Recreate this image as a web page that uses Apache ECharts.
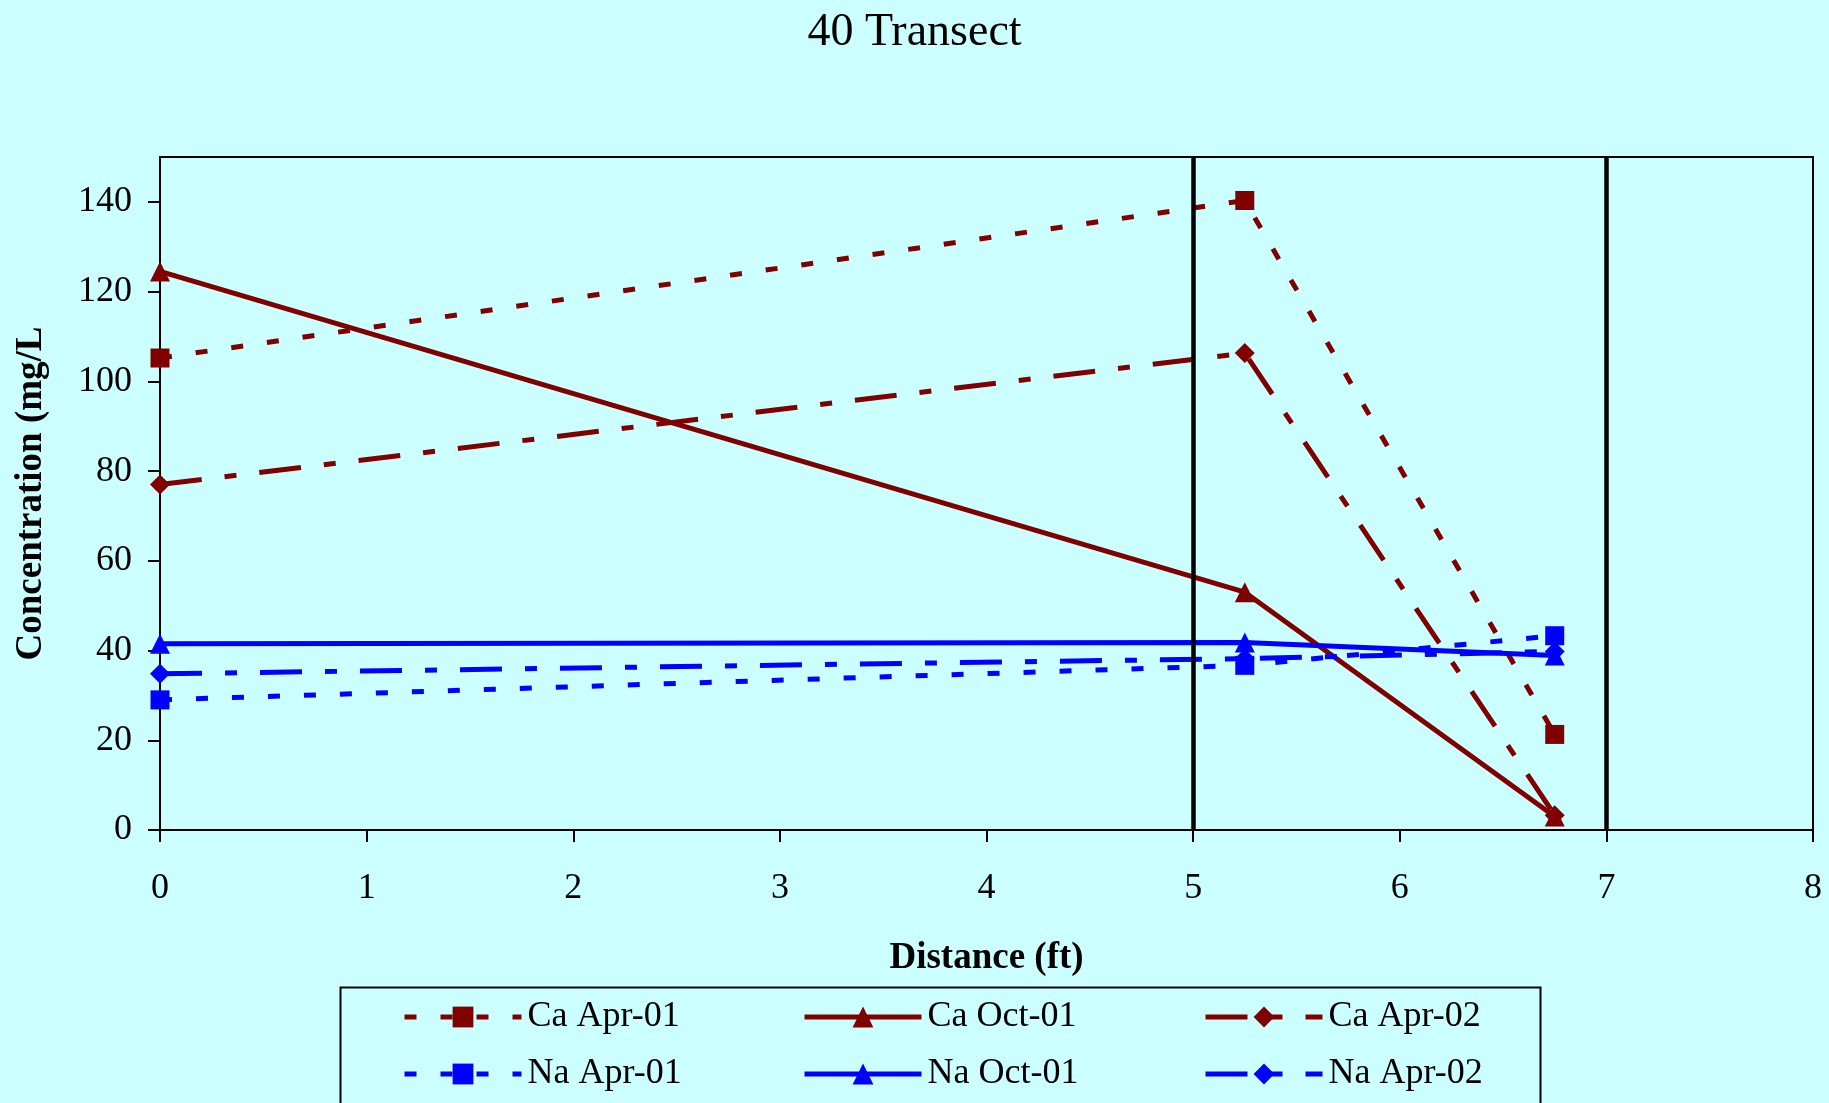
<!DOCTYPE html>
<html>
<head>
<meta charset="utf-8">
<script src="https://cdn.jsdelivr.net/npm/echarts@6/dist/echarts.min.js"></script>
<style>
html,body{margin:0;padding:0;background:#CCFFFF;}
#chart{width:1829px;height:1103px;}
</style>
</head>
<body>
<div id="chart"></div>
<script>
// ---- data ----
const xPositions = [0, 5.25, 6.75];
const seriesNames = ['Ca Apr-01', 'Ca Oct-01', 'Ca Apr-02', 'Na Apr-01', 'Na Oct-01', 'Na Apr-02'];
const caApr01 = [105.2, 140.3, 21.3];
const caOct01 = [124.5, 53.0, 3.0];
const caApr02 = [77.0, 106.3, 3.3];
const naApr01 = [29.0, 36.7, 43.3];
const naOct01 = [41.5, 41.8, 38.9];
const naApr02 = [34.8, 38.2, 39.8];
const yTicks = [0, 20, 40, 60, 80, 100, 120, 140];
const xTicks = [0, 1, 2, 3, 4, 5, 6, 7, 8];
const boundaryLines = [5, 7];

const FONT = "'Liberation Serif', 'Times New Roman', serif";
const RED = '#800000';
const BLUE = '#0000FF';
const DOT = [12, 24];
const DASHDOT = [42, 23, 12, 23];

function pts(vals) { return xPositions.map((x, i) => [x, vals[i]]); }

function mk(name, vals, color, type, symbol, size) {
  return {
    name: name,
    type: 'line',
    data: pts(vals),
    symbol: symbol,
    symbolSize: size,
    showSymbol: true,
    lineStyle: { color: color, width: 5, type: type, cap: 'butt' },
    itemStyle: { color: color },
    animation: false,
    z: 3
  };
}

const series = [
  mk(seriesNames[0], caApr01, RED, DOT, 'rect', 19),
  mk(seriesNames[1], caOct01, RED, 'solid', 'triangle', 20),
  mk(seriesNames[2], caApr02, RED, DASHDOT, 'diamond', 20),
  mk(seriesNames[3], naApr01, BLUE, DOT, 'rect', 19),
  mk(seriesNames[4], naOct01, BLUE, 'solid', 'triangle', 20),
  mk(seriesNames[5], naApr02, BLUE, DASHDOT, 'diamond', 20)
];
series.push({
  type: 'line',
  data: [],
  silent: true,
  animation: false,
  markLine: {
    silent: true,
    symbol: ['none', 'none'],
    label: { show: false },
    lineStyle: { color: '#000', width: 4.5, type: 'solid' },
    data: boundaryLines.map(v => ({ xAxis: v }))
  }
});

function legendCol(names, left) {
  return {
    data: names,
    orient: 'vertical',
    left: left,
    top: 994,
    itemWidth: 117,
    itemHeight: 26,
    itemGap: 21,
    lineStyle: { width: 5 },
    textStyle: { fontFamily: FONT, fontSize: 36, color: '#000', padding: [0, 0, 0, 1] }
  };
}

const option = {
  backgroundColor: '#CCFFFF',
  animation: false,
  title: {
    text: '40 Transect',
    left: 'center',
    top: 5,
    textStyle: { fontFamily: FONT, fontSize: 46, fontWeight: 'normal', color: '#000' }
  },
  grid: {
    left: 160, right: 16, top: 157, bottom: 273,
    show: true, borderColor: '#000', borderWidth: 2, backgroundColor: '#CCFFFF'
  },
  xAxis: {
    type: 'value',
    min: 0, max: 8, interval: 1,
    name: 'Distance (ft)',
    nameLocation: 'middle',
    nameGap: 110,
    nameTextStyle: { fontFamily: FONT, fontSize: 37, fontWeight: 'bold', color: '#000' },
    axisLine: { show: true, onZero: false, lineStyle: { color: '#000', width: 2 } },
    axisTick: { show: true, inside: false, length: 12, lineStyle: { color: '#000', width: 2 } },
    axisLabel: { margin: 41, fontFamily: FONT, fontSize: 36, color: '#000', customValues: xTicks },
    splitLine: { show: false }
  },
  yAxis: {
    type: 'value',
    min: 0, max: 150, interval: 20,
    name: 'Concentration (mg/L',
    nameLocation: 'middle',
    nameGap: 110,
    nameTextStyle: { fontFamily: FONT, fontSize: 37, fontWeight: 'bold', color: '#000' },
    axisLine: { show: true, lineStyle: { color: '#000', width: 2 } },
    axisTick: { show: true, inside: false, length: 12, lineStyle: { color: '#000', width: 2 }, customValues: yTicks },
    axisLabel: { margin: 28, fontFamily: FONT, fontSize: 36, color: '#000', customValues: yTicks },
    splitLine: { show: false }
  },
  legend: [
    legendCol([seriesNames[0], seriesNames[3]], 397),
    legendCol([seriesNames[1], seriesNames[4]], 797),
    legendCol([seriesNames[2], seriesNames[5]], 1198)
  ],
  graphic: [{
    type: 'rect',
    left: 338, top: 985,
    shape: { width: 1200, height: 140 },
    style: { fill: 'none', stroke: '#000', lineWidth: 2 },
    z: 0
  }],
  series: series
};

const chart = echarts.init(document.getElementById('chart'), null, { renderer: 'canvas' });
chart.setOption(option);
</script>
</body>
</html>
